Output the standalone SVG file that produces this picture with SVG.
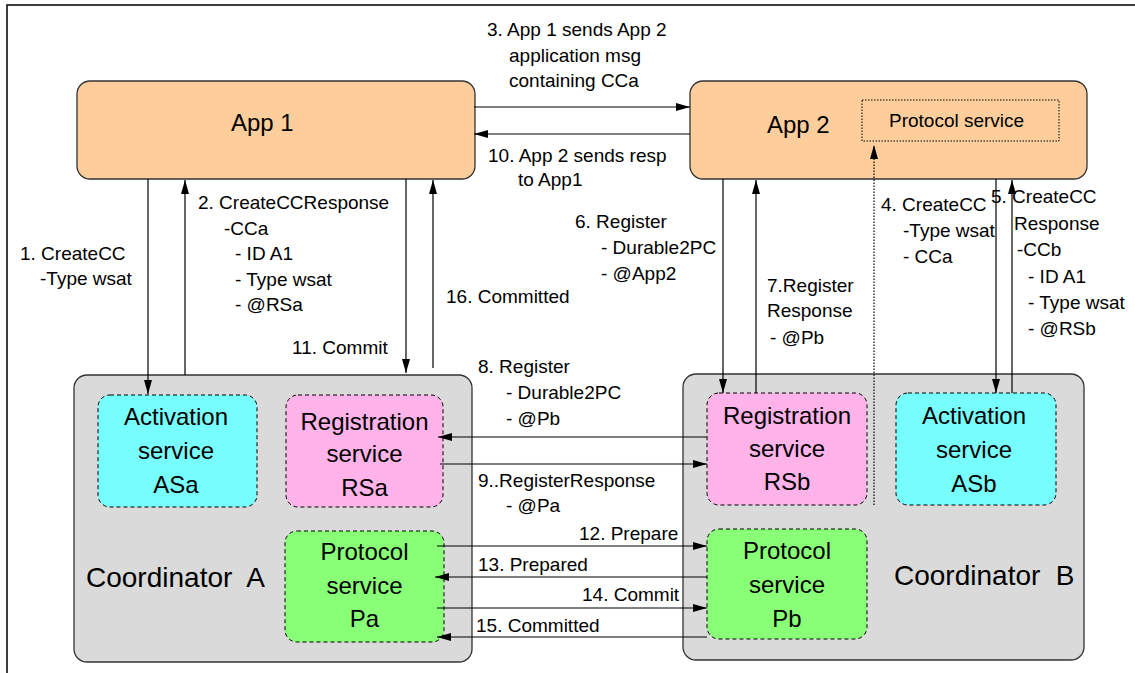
<svg xmlns="http://www.w3.org/2000/svg" width="1135" height="673" viewBox="0 0 1135 673">
<defs>
<marker id="arr" markerUnits="userSpaceOnUse" markerWidth="15" markerHeight="9" refX="14" refY="4" orient="auto">
<path d="M0,0 L14,4 L0,8 z" fill="#000"/>
</marker>
<style>
text{font-family:"Liberation Sans",Arial,sans-serif;fill:#000}
.lbl{font-size:19px}
.node{font-size:24px;text-anchor:middle}
.app{fill:#FDCE9B;stroke:#333;stroke-width:1.3}
.coord{fill:#DADADA;stroke:#333;stroke-width:1.3}
.svc{stroke:#000;stroke-width:1;stroke-dasharray:4 3}
.ln{stroke:#000;stroke-width:1.2;fill:none;marker-end:url(#arr)}
</style>
</defs>
<rect width="1135" height="673" fill="#fff"/>
<path d="M7,673 L7,5 L1135,5" fill="none" stroke="#000" stroke-width="1.5"/>

<g id="app1">
<rect class="app" x="77" y="81" width="398" height="98" rx="13"/>
<text x="231" y="131" style="font-size:24px">App 1</text>
</g>
<g id="app2">
<rect class="app" x="690" y="81" width="397" height="98" rx="13"/>
<text x="767" y="133" style="font-size:24px">App 2</text>
</g>
<g id="app2-protocol-service">
<rect x="862" y="100" width="197" height="41" fill="none" stroke="#000" stroke-width="1" stroke-dasharray="1.5 1.5"/>
<text class="lbl" x="889" y="127">Protocol service</text>
</g>

<g id="coordinatorA">
<rect class="coord" x="74" y="375" width="398" height="287" rx="13"/>
<text x="86" y="587" style="font-size:28px" xml:space="preserve">Coordinator  A</text>
</g>
<g id="coordinatorB">
<rect class="coord" x="683" y="374" width="401" height="286" rx="13"/>
<text x="894" y="585" style="font-size:28px" xml:space="preserve">Coordinator  B</text>
</g>

<g id="ASa">
<rect class="svc" x="98" y="395" width="159" height="112" rx="12" fill="#77FFFF"/>
<text class="node" x="176" y="425">Activation</text>
<text class="node" x="176" y="459">service</text>
<text class="node" x="176" y="493">ASa</text>
</g>
<g id="RSa">
<rect class="svc" x="286" y="395" width="157" height="112" rx="12" fill="#FFB3E8"/>
<text class="node" x="364.5" y="430">Registration</text>
<text class="node" x="364.5" y="462">service</text>
<text class="node" x="364.5" y="496">RSa</text>
</g>
<g id="Pa">
<rect class="svc" x="285" y="531" width="159" height="111" rx="12" fill="#88FF77"/>
<text class="node" x="364.5" y="560">Protocol</text>
<text class="node" x="364.5" y="594">service</text>
<text class="node" x="364.5" y="627">Pa</text>
</g>
<g id="RSb">
<rect class="svc" x="707" y="393" width="160" height="112" rx="12" fill="#FFB3E8"/>
<text class="node" x="787" y="424">Registration</text>
<text class="node" x="787" y="457">service</text>
<text class="node" x="787" y="490">RSb</text>
</g>
<g id="Pb">
<rect class="svc" x="707" y="529" width="160" height="110" rx="12" fill="#88FF77"/>
<text class="node" x="787" y="559">Protocol</text>
<text class="node" x="787" y="593">service</text>
<text class="node" x="787" y="627">Pb</text>
</g>
<g id="ASb">
<rect class="svc" x="896" y="393" width="160" height="112" rx="12" fill="#77FFFF"/>
<text class="node" x="974" y="424">Activation</text>
<text class="node" x="974" y="458">service</text>
<text class="node" x="974" y="492">ASb</text>
</g>

<g id="connectors">
<path class="ln" d="M474,107 L690,107"/>
<path class="ln" d="M690,134 L474,134"/>
<path class="ln" d="M148,179 L148,394"/>
<path class="ln" d="M185,375 L185,180"/>
<path class="ln" d="M406,179 L406,373"/>
<path class="ln" d="M433,368 L433,180"/>
<path class="ln" d="M723,179 L723,393"/>
<path class="ln" d="M756,393 L756,180"/>
<path class="ln" d="M996,179 L996,393"/>
<path class="ln" d="M1012,393 L1012,180"/>
<path class="ln" d="M874,505 L874,145" stroke-dasharray="1.5 1.5" stroke-width="1"/>
<path class="ln" d="M707,437 L438,437"/>
<path class="ln" d="M440,464 L707,464"/>
<path class="ln" d="M437,546 L707,546"/>
<path class="ln" d="M707,577 L435,577"/>
<path class="ln" d="M437,608 L707,608"/>
<path class="ln" d="M707,637 L437,637"/>
</g>

<g id="labels" class="lbl">
<text class="lbl" x="487" y="36">3. App 1 sends App 2</text>
<text class="lbl" x="509" y="62">application msg</text>
<text class="lbl" x="509" y="87">containing CCa</text>
<text class="lbl" x="488" y="162">10. App 2 sends resp</text>
<text class="lbl" x="518" y="186">to App1</text>

<text class="lbl" x="20" y="260">1. CreateCC</text>
<text class="lbl" x="40" y="285">-Type wsat</text>

<text class="lbl" x="198" y="209">2. CreateCCResponse</text>
<text class="lbl" x="224" y="235">-CCa</text>
<text class="lbl" x="235" y="260">- ID A1</text>
<text class="lbl" x="235" y="286">- Type wsat</text>
<text class="lbl" x="235" y="311">- @RSa</text>

<text class="lbl" x="292" y="354">11. Commit</text>
<text class="lbl" x="446" y="303">16. Committed</text>

<text class="lbl" x="575" y="228">6. Register</text>
<text class="lbl" x="601" y="254">- Durable2PC</text>
<text class="lbl" x="601" y="280">- @App2</text>

<text class="lbl" x="767" y="292">7.Register</text>
<text class="lbl" x="767" y="317">Response</text>
<text class="lbl" x="770" y="344"> - @Pb</text>

<text class="lbl" x="881" y="211">4. CreateCC</text>
<text class="lbl" x="903" y="237">-Type wsat</text>
<text class="lbl" x="903" y="263">- CCa</text>

<text class="lbl" x="991" y="203">5. CreateCC</text>
<text class="lbl" x="1014" y="230">Response</text>
<text class="lbl" x="1017" y="256">-CCb</text>
<text class="lbl" x="1028" y="283">- ID A1</text>
<text class="lbl" x="1028" y="309">- Type wsat</text>
<text class="lbl" x="1028" y="335">- @RSb</text>

<text class="lbl" x="478" y="373">8. Register</text>
<text class="lbl" x="506" y="399">- Durable2PC</text>
<text class="lbl" x="506" y="425">- @Pb</text>
<text class="lbl" x="478" y="487">9..RegisterResponse</text>
<text class="lbl" x="506" y="512">- @Pa</text>

<text class="lbl" x="579" y="540">12. Prepare</text>
<text class="lbl" x="478" y="571">13. Prepared</text>
<text class="lbl" x="582" y="601">14. Commit</text>
<text class="lbl" x="476" y="632">15. Committed</text>
</g>
</svg>
